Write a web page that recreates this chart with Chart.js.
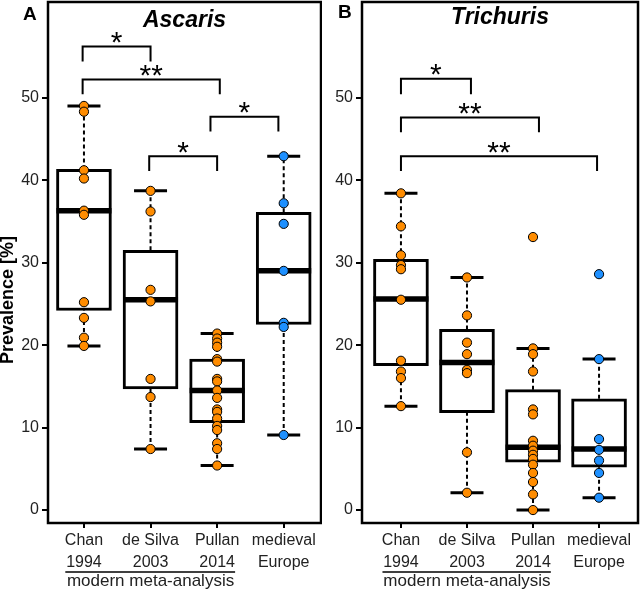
<!DOCTYPE html>
<html>
<head>
<meta charset="utf-8">
<script src="https://cdn.jsdelivr.net/npm/chart.js@4.4.0/dist/chart.umd.min.js"></script>
<style>
  body { margin: 0; background: #fff; }
  #wrap { position: relative; width: 641px; height: 591px; }
  .panel { position: absolute; top: 0; height: 591px; }
  #panelA { left: 0; width: 322px; }
  #panelB { left: 322px; width: 319px; }
</style>
</head>
<body>
<div id="wrap">
  <div class="panel" id="panelA"><canvas id="chartA"></canvas></div>
  <div class="panel" id="panelB"><canvas id="chartB"></canvas></div>
</div>
<script>
// Categories and axis ticks
const categories = [['Chan', '1994'], ['de Silva', '2003'], ['Pullan', '2014'], ['medieval', 'Europe']];
const yTicks = [0, 10, 20, 30, 40, 50];
const groupColors = ['#FF8C00', '#FF8C00', '#FF8C00', '#1E90FF'];

// Ascaris prevalence [%] per study
const ascarisChan = [49.0, 48.3, 41.2, 40.2, 36.3, 35.8, 25.2, 23.3, 20.9, 19.9];
const ascarisSilva = [38.7, 36.2, 26.7, 25.3, 15.9, 13.7, 7.4];
const ascarisPullan = [21.4, 20.8, 20.3, 19.8, 18.3, 18.0, 15.9, 15.6, 14.5, 13.6, 12.2, 11.9, 11.1, 10.2, 9.7, 8.1, 7.4, 5.4];
const ascarisMedieval = [42.9, 37.2, 34.7, 29.0, 22.7, 22.2, 9.1];
// box stats: [lower whisker, q1, median, q3, upper whisker]
const ascarisBoxes = [[19.9, 24.2, 36.3, 41.3, 49.0], [7.4, 14.7, 25.5, 31.5, 38.7], [5.4, 10.6, 14.5, 18.3, 21.4], [9.1, 22.5, 29.0, 36.1, 42.9]];
// significance brackets: [from, to, bar, leg end, label]
const ascarisSig = [[0.98, 2.0, 56.2, 54.4, '*'], [0.98, 3.04, 52.2, 50.4, '**'], [2.9, 3.92, 47.7, 45.9, '*'], [1.98, 3.0, 42.9, 41.1, '*']];

// Trichuris prevalence [%] per study
const trichurisChan = [38.4, 34.4, 30.9, 29.7, 29.2, 25.5, 18.1, 16.8, 16.0, 12.6];
const trichurisSilva = [28.2, 23.6, 20.3, 18.9, 17.0, 16.6, 7.0, 2.1];
const trichurisPullan = [33.1, 19.6, 18.9, 16.8, 12.2, 11.6, 8.4, 7.8, 7.2, 6.7, 6.2, 5.5, 4.5, 3.4, 1.9, 0.0];
const trichurisMedieval = [28.6, 18.3, 8.6, 7.3, 6.0, 4.5, 1.5];
const trichurisBoxes = [[12.6, 17.5, 25.6, 30.4, 38.4], [2.1, 11.8, 17.9, 21.9, 28.2], [0.0, 5.8, 7.6, 14.6, 19.6], [1.5, 5.2, 7.4, 13.5, 18.3]];
const trichurisSig = [[1.0, 2.06, 52.3, 50.4, '*'], [1.0, 3.09, 47.6, 45.8, '**'], [1.0, 3.97, 42.9, 41.1, '**']];

const sans = "'Liberation Sans', Arial, sans-serif";

// Draws the frame, brackets, titles and the grouping line under the x axis
function makeDecorations(p) {
    return {
        id: 'decorations',
        afterDatasetsDraw(chart) {
            const { ctx, chartArea: a, scales: { x, y } } = chart;
            ctx.save();
            ctx.strokeStyle = '#000';
            ctx.fillStyle = '#000';
            ctx.lineWidth = 2.5;
            ctx.strokeRect(a.left, a.top, a.right - a.left, a.bottom - a.top);

            // significance brackets
            ctx.lineWidth = 2;
            ctx.font = '30px ' + sans;
            ctx.textAlign = 'center';
            ctx.textBaseline = 'alphabetic';
            p.sig.forEach(s => {
                const x1 = x.getPixelForValue(s[0]);
                const x2 = x.getPixelForValue(s[1]);
                const yt = y.getPixelForValue(s[2]);
                const yl = y.getPixelForValue(s[3]);
                ctx.beginPath();
                ctx.moveTo(x1, yl);
                ctx.lineTo(x1, yt);
                ctx.lineTo(x2, yt);
                ctx.lineTo(x2, yl);
                ctx.stroke();
                const m = ctx.measureText(s[4]);
                const yc = yt - 9;
                ctx.fillText(s[4], (x1 + x2) / 2, yc + (m.actualBoundingBoxAscent - m.actualBoundingBoxDescent) / 2);
            });

            // title
            ctx.font = 'italic bold 23px ' + sans;
            ctx.fillText(p.title, (a.left + a.right) / 2, p.titleY);

            // panel letter
            ctx.textAlign = 'left';
            ctx.font = 'bold 19px ' + sans;
            ctx.fillText(p.letter, p.letterX, p.letterY);

            // y axis title
            if (p.yTitle) {
                ctx.save();
                ctx.translate(8, 300);
                ctx.rotate(-Math.PI / 2);
                ctx.textAlign = 'center';
                ctx.textBaseline = 'middle';
                ctx.font = 'bold 18px ' + sans;
                ctx.fillText(p.yTitle, 0, 0);
                ctx.restore();
            }

            // modern meta-analysis group line
            ctx.lineWidth = 1.3;
            ctx.beginPath();
            ctx.moveTo(x.getPixelForValue(0.72), 572);
            ctx.lineTo(x.getPixelForValue(3.27), 572);
            ctx.stroke();
            ctx.textAlign = 'center';
            ctx.fillStyle = '#222';
            ctx.font = '17px ' + sans;
            ctx.fillText('modern meta-analysis', x.getPixelForValue(2), 586);
            ctx.restore();
        }
    };
}

function buildChart(id, groups, boxes, sig, p) {
    const points = [];
    const pointColors = [];
    groups.forEach((vals, i) => vals.forEach(v => {
        points.push({ x: i + 1, y: v });
        pointColors.push(groupColors[i]);
    }));

    const whiskers = [];
    const caps = [];
    boxes.forEach((b, i) => {
        whiskers.push({ x: i + 1, y: b[0] }, { x: i + 1, y: b[1] }, { x: i + 1, y: null },
                      { x: i + 1, y: b[3] }, { x: i + 1, y: b[4] }, { x: i + 1, y: null });
        caps.push({ x: i + 1, y: b[0] }, { x: i + 1, y: b[4] });
    });

    return new Chart(document.getElementById(id), {
        type: 'bar',
        data: {
            datasets: [
                {
                    type: 'bar',
                    data: boxes.map((b, i) => ({ x: i + 1, y: [b[1], b[3]] })),
                    backgroundColor: '#fff',
                    borderColor: '#000',
                    borderWidth: 3,
                    borderSkipped: false,
                    barThickness: 55,
                    order: 5
                },
                {
                    type: 'line',
                    data: whiskers,
                    borderColor: '#000',
                    borderWidth: 2,
                    borderDash: [4, 3],
                    pointRadius: 0,
                    spanGaps: false,
                    order: 4
                },
                {
                    type: 'scatter',
                    data: caps,
                    pointStyle: 'line',
                    pointRadius: 16.5,
                    borderColor: '#000',
                    borderWidth: 3,
                    order: 3
                },
                {
                    type: 'scatter',
                    data: boxes.map((b, i) => ({ x: i + 1, y: b[2] })),
                    pointStyle: 'line',
                    pointRadius: 27.5,
                    borderColor: '#000',
                    borderWidth: 5.5,
                    order: 2
                },
                {
                    type: 'scatter',
                    data: points,
                    pointRadius: 4.6,
                    backgroundColor: pointColors,
                    borderColor: '#000',
                    borderWidth: 1,
                    order: 1
                }
            ]
        },
        options: {
            responsive: true,
            maintainAspectRatio: false,
            animation: false,
            events: [],
            layout: { autoPadding: false, padding: { left: 0, right: p.padRight, top: 2, bottom: 0 } },
            plugins: { legend: { display: false }, tooltip: { enabled: false } },
            scales: {
                x: {
                    type: 'linear',
                    offset: false,
                    min: p.xMin,
                    max: p.xMax,
                    afterBuildTicks: s => { s.ticks = categories.map((c, i) => ({ value: i + 1 })); },
                    afterFit: s => { s.height = 68; s.paddingLeft = 0; s.paddingRight = 0; },
                    ticks: {
                        callback: v => categories[v - 1],
                        autoSkip: false,
                        maxRotation: 0,
                        padding: 2,
                        color: '#222',
                        font: { family: sans, size: 16, lineHeight: 1.35 }
                    },
                    grid: { offset: false, drawOnChartArea: false, drawTicks: true, tickLength: 5, color: '#000', lineWidth: 2 },
                    border: { display: false }
                },
                y: {
                    min: -1.57,
                    max: 61.6,
                    afterBuildTicks: s => { s.ticks = yTicks.map(v => ({ value: v })); },
                    afterFit: s => { s.width = p.yWidth; s.paddingTop = 0; s.paddingBottom = 0; },
                    ticks: {
                        padding: 3,
                        color: '#222',
                        font: { family: sans, size: 16 }
                    },
                    grid: { drawOnChartArea: false, drawTicks: true, tickLength: 6, color: '#000', lineWidth: 2 },
                    border: { display: false }
                }
            }
        },
        plugins: [makeDecorations(Object.assign({ sig: sig }, p))]
    });
}

buildChart('chartA', [ascarisChan, ascarisSilva, ascarisPullan, ascarisMedieval], ascarisBoxes, ascarisSig, {
    xMin: 0.46, xMax: 4.56, yWidth: 48, padRight: 1,
    title: 'Ascaris', titleY: 27, letter: 'A', letterX: 23, letterY: 20, yTitle: 'Prevalence [%]'
});

buildChart('chartB', [trichurisChan, trichurisSilva, trichurisPullan, trichurisMedieval], trichurisBoxes, trichurisSig, {
    xMin: 0.41, xMax: 4.59, yWidth: 40, padRight: 3,
    title: 'Trichuris', titleY: 24, letter: 'B', letterX: 16, letterY: 18
});
</script>
</body>
</html>
